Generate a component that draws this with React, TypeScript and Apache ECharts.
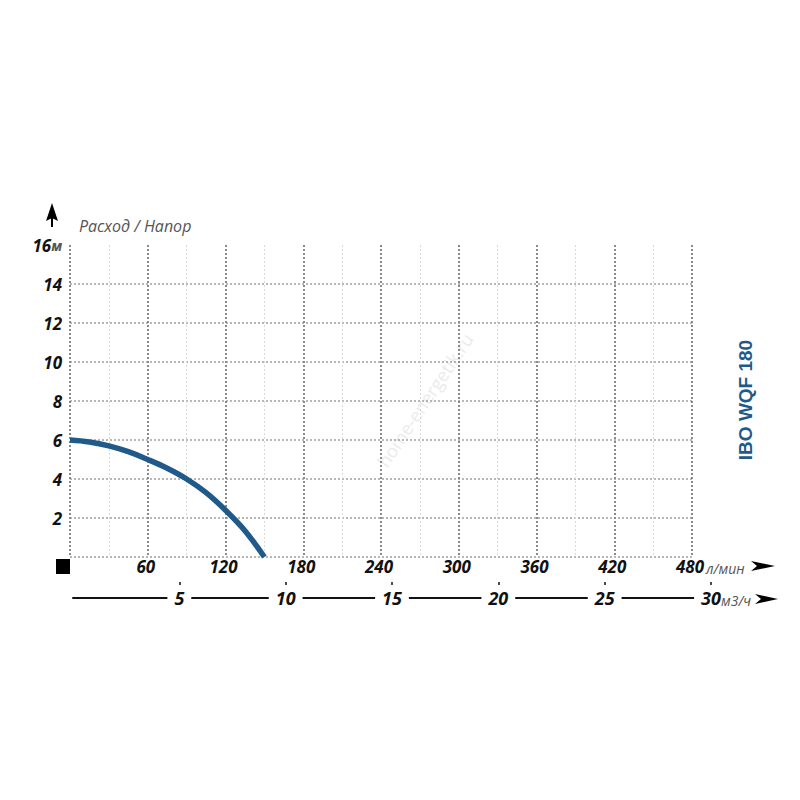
import React, { useEffect, useRef } from "react";
import * as echarts from "echarts";

// Flow (l/min) vs head (m)
const flowLpm = [0, 15, 30, 45, 60, 75, 90, 105, 120, 135, 150];
const headM = [6.0, 5.9, 5.7, 5.4, 5.0, 4.55, 4.0, 3.3, 2.4, 1.35, 0];
// Secondary flow scale (m3/h) tick labels
const flowM3hTicks = ["0", "5", "10", "15", "20", "25", "30"];

const titleText = "Расход / Напор";
const modelText = "IBO WQF 180";
const unitLpm = "л/мин";
const unitM3h = "м3/ч";
const unitHead = "м";
const watermark = "home-energetik.ru";

const FONT = "Open Sans";
const BLUE = "#1f5a8a";

export default function App() {
  const ref = useRef<HTMLDivElement>(null);
  useEffect(() => {
    if (!ref.current) return;
    const chart = echarts.init(ref.current, undefined, { renderer: "svg" });
    const labelStyle = {
      color: "#111",
      fontFamily: FONT,
      fontWeight: "bold" as const,
      fontStyle: "italic" as const,
      fontSize: 17,
    };
    const hc = "#a0a0a0";
    const hColors = [hc, hc, hc, hc, hc, hc, hc, hc, "rgba(0,0,0,0)"];
    chart.setOption({
      animation: false,
      backgroundColor: "#fff",
      grid: [
        { left: 70, right: 108, top: 245, bottom: 243 },
        { left: 73, right: 89, top: 597, height: 1 },
      ],
      xAxis: [
        {
          type: "value",
          gridIndex: 0,
          min: 0,
          max: 480,
          interval: 60,
          axisLine: { show: false },
          axisTick: { show: false },
          minorTick: { show: false, splitNumber: 2 },
          axisLabel: {
            ...labelStyle,
            margin: 1,
            padding: [0, 4, 0, 0],
            formatter: (v: number) => (v === 0 ? "" : String(v)),
          },
          splitLine: { show: true, lineStyle: { color: "#8a8a8a", width: 2, type: [2, 2] } },
          minorSplitLine: { show: true, lineStyle: { color: "#dadada", width: 1, type: [2, 2] } },
        },
        {
          type: "category",
          gridIndex: 1,
          data: flowM3hTicks,
          boundaryGap: false,
          position: "bottom",
          axisLine: { show: true, lineStyle: { color: "#111", width: 2 } },
          axisTick: {
            show: true,
            inside: true,
            length: 16,
            interval: (i: number) => i !== 0,
            lineStyle: { color: "#111", width: 1.5 },
          },
          axisLabel: {
            ...labelStyle,
            fontSize: 18,
            margin: 0,
            verticalAlign: "middle",
            backgroundColor: "#fff",
            padding: [2, 7, 2, 7],
            lineHeight: 22,
            interval: (i: number) => i !== 0,
          },
          splitLine: { show: false },
        },
      ],
      yAxis: [
        {
          type: "value",
          gridIndex: 0,
          min: 0,
          max: 16,
          interval: 2,
          axisLine: { show: false },
          axisTick: { show: false },
          axisLabel: {
            ...labelStyle,
            margin: 8,
            formatter: (v: number) =>
              v === 0 ? "" : v === 16 ? `{a|16}{u|${unitHead}}` : String(v),
            rich: {
              a: { ...labelStyle },
              u: { fontFamily: FONT, fontStyle: "italic", fontSize: 14, color: "#555" },
            },
          },
          splitLine: { show: true, lineStyle: { color: hColors, width: 1.5, type: [2, 2] } },
        },
        { type: "value", gridIndex: 1, show: false, min: 0, max: 1 },
      ],
      series: [
        {
          type: "line",
          xAxisIndex: 0,
          yAxisIndex: 0,
          data: flowLpm.map((f, i) => [f, headM[i]]),
          smooth: 0.4,
          symbol: "none",
          lineStyle: { color: BLUE, width: 5.5 },
          z: 5,
        },
        { type: "line", xAxisIndex: 1, yAxisIndex: 1, data: [], symbol: "none" },
      ],
      graphic: [
        {
          type: "text",
          x: 425,
          y: 400,
          rotation: 0.98,
          z: 0,
          style: {
            text: watermark,
            fill: "#ebebeb",
            font: `18px "${FONT}"`,
            align: "center",
            verticalAlign: "middle",
          },
        },
        {
          type: "polygon",
          z: 100,
          shape: { points: [[52, 203], [58, 221], [52, 218], [46, 221]] },
          style: { fill: "#000" },
        },
        {
          type: "line",
          z: 100,
          shape: { x1: 52, y1: 217, x2: 52, y2: 227 },
          style: { stroke: "#000", lineWidth: 2 },
        },
        {
          type: "text",
          z: 100,
          x: 79,
          y: 226,
          style: {
            text: titleText,
            fill: "#555",
            font: `italic 16px "${FONT}"`,
            verticalAlign: "middle",
          },
        },
        {
          type: "rect",
          z: 100,
          shape: { x: 56, y: 559, width: 14, height: 15 },
          style: { fill: "#000" },
        },
        {
          type: "text",
          z: 100,
          x: 706,
          y: 568,
          style: { text: unitLpm, fill: "#555", font: `italic 14px "${FONT}"`, verticalAlign: "middle" },
        },
        {
          type: "polygon",
          z: 100,
          shape: { points: [[751, 561], [775, 566], [751, 571], [757, 566]] },
          style: { fill: "#000" },
        },
        {
          type: "text",
          z: 100,
          x: 721,
          y: 600,
          style: { text: unitM3h, fill: "#555", font: `italic 14px "${FONT}"`, verticalAlign: "middle" },
        },
        {
          type: "polygon",
          z: 100,
          shape: { points: [[755, 594], [778, 599], [755, 604], [761, 599]] },
          style: { fill: "#000" },
        },
        {
          type: "text",
          z: 100,
          x: 745,
          y: 400,
          rotation: Math.PI / 2,
          style: {
            text: modelText,
            fill: BLUE,
            font: `bold 19px "Liberation Sans"`,
            align: "center",
            verticalAlign: "middle",
          },
        },
      ],
    });
    return () => chart.dispose();
  }, []);
  return <div ref={ref} style={{ width: 800, height: 800, margin: -8 }} />;
}
